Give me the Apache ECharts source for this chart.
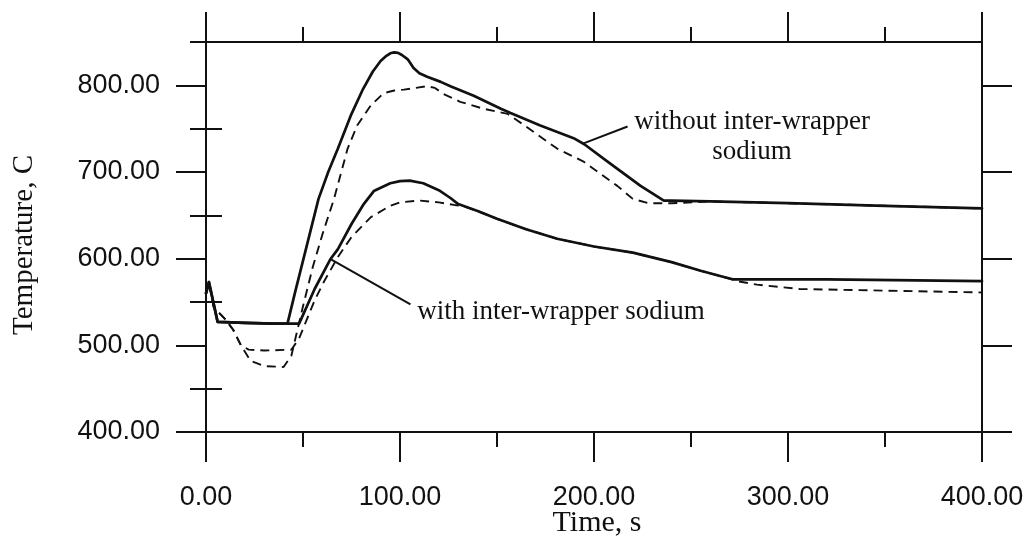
<!DOCTYPE html>
<html>
<head>
<meta charset="utf-8">
<script src="https://cdn.jsdelivr.net/npm/echarts@6/dist/echarts.min.js"></script>
<style>
  html, body { margin: 0; padding: 0; background: #ffffff; }
  #chart { width: 1030px; height: 547px; }
</style>
</head>
<body>
<div id="chart"></div>
<script>
// Axis ticks
const timeMajorTicks = [0, 100, 200, 300, 400];
const tempMajorTicks = [400, 500, 600, 700, 800];
const tempMinorTicks = [450, 550, 650, 750, 850];

// Peak clad temperature, without inter-wrapper sodium (solid)
const timeWithoutSolid = [0, 1.5, 6, 20, 35, 42, 46, 51.5, 58, 63, 68, 74.6, 81, 86, 90, 93, 95, 97, 99, 101, 104, 107, 110, 114, 121, 126, 138, 152, 157, 172, 189.5, 195, 207, 224, 236, 240, 260, 300, 350, 400];
const tempWithoutSolid = [560, 573, 527, 526, 525, 525, 562, 611, 669, 700, 727, 765, 796, 816, 828, 834, 837, 838, 837.5, 835, 830, 820, 814, 810, 804, 799, 788, 773, 768, 754, 739, 732, 712, 684, 667, 667, 666, 664, 661, 658];

// Without inter-wrapper sodium (dashed)
const timeWithoutDashed = [0, 1.5, 4, 10, 14, 18, 23, 30, 40, 44, 50, 55, 60, 66, 73, 78, 85, 91.6, 97, 102, 108, 114, 118, 122.5, 131, 143, 155.5, 164, 181, 194.6, 212, 220, 228, 240, 260, 300, 350, 400];
const tempWithoutDashed = [560, 573, 544, 530, 518, 500, 482, 476, 475, 488, 545, 590, 628, 669, 727, 754, 777, 791, 794, 795, 797, 799, 797, 790, 781, 773, 767, 754, 727, 712, 684, 669, 664, 664, 666, 664, 661, 658];

// With inter-wrapper sodium (solid)
const timeWithSolid = [0, 1.5, 6, 20, 35, 48, 56, 64, 68, 75, 81, 86.5, 95, 100, 105, 112, 120, 126, 130, 140, 150, 165, 181, 200, 220, 240, 255, 265, 272, 285, 320, 366, 400];
const tempWithSolid = [560, 573, 527, 526, 525, 525, 565, 599, 611, 640, 662, 678, 687, 689.5, 690, 687, 679, 670, 663, 655, 646, 634, 623, 614, 607, 596, 586, 580, 576, 576, 576, 575, 574];

// With inter-wrapper sodium (dashed)
const timeWithDashed = [0, 1.5, 4, 10, 14, 18, 22, 30, 44, 48, 52, 56, 60.7, 68, 75, 85, 95, 100, 110, 120, 128, 132, 140, 150, 165, 181, 200, 220, 240, 255, 265, 274, 284, 306, 341, 400];
const tempWithDashed = [560, 573, 544, 530, 518, 500, 495, 494, 495, 508, 530, 552, 573, 602, 625, 648, 661, 665, 667, 665, 662, 661, 655, 646, 634, 623, 614, 607, 596, 586, 580, 574, 570, 565, 563.5, 561];

// Leader lines for the curve labels: [time, temperature] end points
const leaderWithout = [[194.6, 733], [217.3, 752.5]];
const leaderWith = [[64.2, 599.4], [105.4, 547.2]];

// Curve label anchors
const labelWithoutText = ['without inter-wrapper', 'sodium'];
const labelWithoutAt = [281.5, 741];
const labelWithText = 'with inter-wrapper sodium';
const labelWithAt = [108.9, 539];

const zip = (xs, ys) => xs.map((x, i) => [x, ys[i]]);

const INK = '#111111';
const sansFont = '"Liberation Sans", Arial, sans-serif';
const serifFont = '"Liberation Serif", "Times New Roman", serif';

const chart = echarts.init(document.getElementById('chart'), null, { renderer: 'canvas' });

const xAxisCommon = {
  type: 'value',
  min: 0,
  max: 400,
  interval: 100,
  splitLine: { show: false },
  axisLine: { show: true, onZero: false, lineStyle: { color: INK, width: 2 } },
  axisTick: { show: true, inside: false, length: 30, lineStyle: { color: INK, width: 2 } },
  minorTick: { show: true, splitNumber: 2, length: 15, lineStyle: { color: INK, width: 2 } },
  minorSplitLine: { show: false }
};

const yAxisBase = {
  type: 'value',
  min: 400,
  max: 850,
  splitLine: { show: false },
  minorTick: { show: false },
  axisLine: { show: true, onZero: false, lineStyle: { color: INK, width: 2 } }
};

function yMajor(position, showLabels) {
  return Object.assign({}, yAxisBase, {
    position: position,
    axisTick: { show: true, inside: false, length: 30, customValues: tempMajorTicks, lineStyle: { color: INK, width: 2 } },
    axisLabel: showLabels ? {
      show: true,
      customValues: tempMajorTicks,
      margin: 46,
      color: INK,
      fontFamily: sansFont,
      fontSize: 27,
      formatter: v => Number(v).toFixed(2)
    } : { show: false }
  });
}

function yMinor(position) {
  return Object.assign({}, yAxisBase, {
    position: position,
    axisLine: { show: false },
    axisTick: { show: true, inside: false, length: 16, customValues: tempMinorTicks, lineStyle: { color: INK, width: 2 } },
    axisLabel: { show: false }
  });
}

const solidStyle = { color: INK, width: 2.7, type: 'solid', join: 'round', cap: 'round' };
const dashedStyle = { color: INK, width: 1.9, type: [9, 6] };

function curve(name, data, style) {
  return {
    name: name,
    type: 'line',
    data: data,
    xAxisIndex: 0,
    yAxisIndex: 0,
    showSymbol: false,
    symbol: 'none',
    smooth: false,
    lineStyle: style,
    silent: true,
    z: 3
  };
}

const option = {
  animation: false,
  backgroundColor: '#ffffff',
  grid: { left: 206, right: 48, top: 42, bottom: 115, containLabel: false },
  xAxis: [
    Object.assign({}, xAxisCommon, {
      position: 'bottom',
      axisLabel: {
        show: true,
        margin: 52,
        color: INK,
        fontFamily: sansFont,
        fontSize: 27,
        formatter: v => Number(v).toFixed(2)
      }
    }),
    Object.assign({}, xAxisCommon, {
      position: 'top',
      axisLabel: { show: false }
    })
  ],
  yAxis: [
    yMajor('left', true),
    yMinor('left'),
    yMajor('right', false),
    yMinor('right')
  ],
  series: [
    curve('without, solid', zip(timeWithoutSolid, tempWithoutSolid), solidStyle),
    curve('without, dashed', zip(timeWithoutDashed, tempWithoutDashed), dashedStyle),
    curve('with, solid', zip(timeWithSolid, tempWithSolid), solidStyle),
    curve('with, dashed', zip(timeWithDashed, tempWithDashed), dashedStyle),
    curve('leader without', leaderWithout, { color: INK, width: 2 }),
    curve('leader with', leaderWith, { color: INK, width: 2 })
  ]
};

chart.setOption(option);

const toPx = p => chart.convertToPixel({ xAxisIndex: 0, yAxisIndex: 0 }, p);
const pWithout = toPx(labelWithoutAt);
const pWith = toPx(labelWithAt);

chart.setOption({
  graphic: [
    {
      type: 'text',
      x: pWithout[0],
      y: pWithout[1],
      style: {
        text: labelWithoutText.join('\n'),
        font: '27px ' + serifFont,
        fill: INK,
        align: 'center',
        verticalAlign: 'middle',
        lineHeight: 30
      }
    },
    {
      type: 'text',
      x: pWith[0],
      y: pWith[1],
      style: {
        text: labelWithText,
        font: '27px ' + serifFont,
        fill: INK,
        align: 'left',
        verticalAlign: 'middle'
      }
    },
    {
      type: 'text',
      x: 597,
      y: 523,
      style: {
        text: 'Time, s',
        font: '30px ' + serifFont,
        fill: INK,
        align: 'center',
        verticalAlign: 'middle'
      }
    },
    {
      type: 'text',
      x: 24,
      y: 245,
      rotation: Math.PI / 2,
      style: {
        text: 'Temperature, C',
        font: '29px ' + serifFont,
        fill: INK,
        align: 'center',
        verticalAlign: 'middle'
      }
    }
  ]
});
</script>
</body>
</html>
